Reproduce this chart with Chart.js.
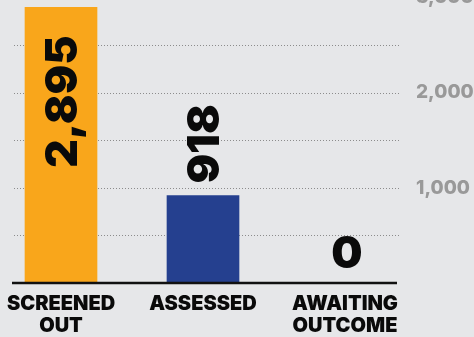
<!DOCTYPE html>
<html>
<head>
<meta charset="utf-8">
<script src="https://cdn.jsdelivr.net/npm/chart.js@4"></script>
<style>
  html, body { margin: 0; padding: 0; background: #e6e7e9; overflow: hidden; width: 474px; height: 337px; }
  #wrap { position: absolute; left: -10px; top: -30px; width: 486px; height: 367px; }
</style>
</head>
<body>
<div id="wrap"><canvas id="grafico"></canvas></div>
<script>
// Datos del gráfico
const categorias = [['SCREENED', 'OUT'], ['ASSESSED'], ['AWAITING', 'OUTCOME']];
const valores = [2895, 918, 0];
const colores = ['#F9A61B', '#25408F', '#25408F'];
const yMin = 0;
const yMax = 3000;
const yPaso = 500;

const fuente = 'Inter';

// Líneas punteadas y línea base
const pluginGrilla = {
    id: 'grilla',
    beforeDatasetsDraw(chart) {
        const ctx = chart.ctx;
        const y = chart.scales.y;
        const a = chart.chartArea;
        ctx.save();
        ctx.strokeStyle = '#8c8c8c';
        ctx.lineWidth = 1;
        ctx.setLineDash([1, 2]);
        y.ticks.forEach(t => {
            if (t.value <= 0) return;
            const py = Math.round(y.getPixelForValue(t.value)) + 0.5;
            ctx.beginPath();
            ctx.moveTo(a.left + 24, py);
            ctx.lineTo(a.right - 16, py);
            ctx.stroke();
        });
        ctx.restore();
    },
    afterDatasetsDraw(chart) {
        const ctx = chart.ctx;
        const y = chart.scales.y;
        const a = chart.chartArea;
        const py = y.getPixelForValue(0);
        ctx.save();
        ctx.strokeStyle = '#111';
        ctx.lineWidth = 2.5;
        ctx.beginPath();
        ctx.moveTo(a.left + 22, py);
        ctx.lineTo(a.right - 19, py);
        ctx.stroke();

        // Etiquetas de valores
        const meta = chart.getDatasetMeta(0);
        ctx.fillStyle = '#0a0a0a';
        ctx.font = '900 44px ' + fuente;
        meta.data.forEach((bar, i) => {
            const v = valores[i];
            const txt = v.toLocaleString('en-US');
            const w = ctx.measureText(txt).width;
            const alto = bar.base - bar.y;
            if (v === 0) {
                ctx.textAlign = 'center';
                ctx.textBaseline = 'alphabetic';
                ctx.fillText(txt, bar.x + 2, bar.base - 15);
                return;
            }
            ctx.save();
            if (alto > w + 40) {
                ctx.translate(bar.x + 3, bar.y + 28);
                ctx.rotate(-Math.PI / 2);
                ctx.textAlign = 'right';
            } else {
                ctx.translate(bar.x + 3, bar.y - 12);
                ctx.rotate(-Math.PI / 2);
                ctx.textAlign = 'left';
            }
            ctx.textBaseline = 'middle';
            ctx.fillText(txt, 0, 0);
            ctx.restore();
        });
        ctx.restore();
    }
};

new Chart(document.getElementById('grafico'), {
    type: 'bar',
    data: {
        labels: categorias,
        datasets: [{
            data: valores,
            backgroundColor: colores,
            barThickness: 72,
            borderWidth: 0
        }]
    },
    options: {
        responsive: true,
        maintainAspectRatio: false,
        animation: false,
        layout: { padding: { top: 27.4, left: 0, right: 0, bottom: 0 } },
        plugins: {
            legend: { display: false },
            tooltip: { enabled: false }
        },
        scales: {
            x: {
                grid: { display: false },
                border: { display: false },
                ticks: {
                    color: '#0a0a0a',
                    font: { family: fuente, weight: '900', size: 20, lineHeight: 1.1 },
                    padding: 2,
                    maxRotation: 0,
                    autoSkip: false
                },
                afterFit(scale) { scale.height = 54; }
            },
            y: {
                position: 'right',
                min: yMin,
                max: yMax,
                grid: { display: false, drawTicks: false },
                border: { display: false },
                ticks: {
                    stepSize: yPaso,
                    padding: 0,
                    color: '#999999',
                    font: { family: fuente, weight: '800', size: 19 },
                    callback: v => (v % 1000 === 0 && v > 0) ? v.toLocaleString('en-US') : ''
                },
                afterFit(scale) { scale.width = 60; }
            }
        }
    },
    plugins: [pluginGrilla]
});
</script>
</body>
</html>
